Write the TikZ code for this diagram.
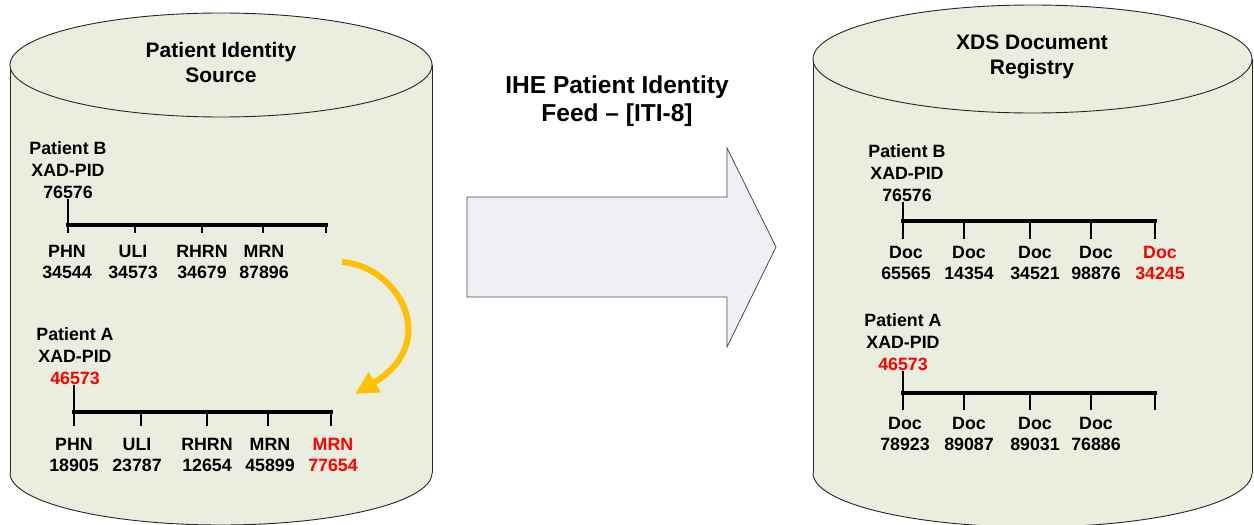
\documentclass[tikz,border=0pt]{standalone}
\usepackage{fontspec}
\setmainfont{Liberation Sans}
\usetikzlibrary{arrows.meta}
\definecolor{cylfill}{HTML}{EAEEDE}
\definecolor{arrowfill}{HTML}{EFEFF5}
\definecolor{feedorange}{HTML}{FFC000}
\definecolor{idred}{HTML}{FF0000}

\tikzset{
  cylbody/.style={fill=cylfill},
  cyledge/.style={draw=black!85, line width=0.9pt},
  heading/.style={font=\fontsize{21}{25}\selectfont\bfseries, align=center, inner sep=0pt},
  feedlabel/.style={font=\fontsize{24.5}{28}\selectfont\bfseries, align=center, inner sep=0pt},
  idtext/.style={font=\fontsize{17.8}{21.8}\selectfont\bfseries, align=center, inner sep=0pt},
  bar/.style={line width=3.5pt, line cap=rect},
  tickline/.style={line width=2.2pt},
  bigarrow/.style={fill=arrowfill, draw=black!70, line width=0.8pt, line join=miter},
  moveline/.style={draw=feedorange, line width=6pt,
    -{Triangle[length=23pt,width=22pt]}},
}

% a cylinder: #1 centre x, #2 half width, #3 top centre y, #4 bottom centre y, #5 y radius
\newcommand\drumshape[5]{%
  \fill[cylbody] (#1-#2,#3) rectangle (#1+#2,#4);
  \fill[cylbody] (#1,#4) ellipse[x radius=#2, y radius=#5];
  \draw[cyledge] (#1-#2,#3) -- (#1-#2,#4);
  \draw[cyledge] (#1+#2,#3) -- (#1+#2,#4);
  \begin{scope}
    \clip (#1-#2-5,#4) rectangle (#1+#2+5,#4+#5+5);
    \draw[cyledge] (#1,#4) ellipse[x radius=#2, y radius=#5];
  \end{scope}
  \draw[cyledge, fill=cylfill] (#1,#3) ellipse[x radius=#2, y radius=#5];
}

% a branch of identifiers: #1 name, #2 bar y, #3 tick end y, #4 list of x positions
\newcommand\idbranch[4]{%
  \foreach \x [count=\i] in {#4} {
    \coordinate (#1t\i) at (\x,#3);
    \coordinate (#1b\i) at (\x,#2);
  }
  \foreach \x [count=\i] in {#4} {
    \draw[tickline] (#1b\i) -- (#1t\i);
  }
  \draw[bar] (#1b1) -- (#1b5);
  \draw[tickline] (#1b1 |- #1.south) -- (#1t1);
}

\begin{document}
\begin{tikzpicture}[x=1pt, y=-1pt]
  \useasboundingbox (0,0) rectangle (1254,525);
  \fill[white] (0,0) rectangle (1254,525);

  % the two stores
  \drumshape{221}{211}{65}{473}{52}
  \drumshape{1032.5}{219.5}{59}{473}{54}

  \node[heading] (srcname) at (221,62) {Patient Identity\\Source};
  \node[heading] (regname) at (1032,57) {XDS Document\\Registry};

  % transaction arrow
  \node[feedlabel] (feed) at (617,101) {IHE Patient Identity\\Feed -- [ITI-8]};
  \draw[bigarrow] (467,197) -- (727,197) -- (727,148) -- (776,247)
    -- (727,347) -- (727,297) -- (467,297) -- cycle;

  % ---- source: patient B
  \node[idtext] (lpb) at (68,170) {Patient B\\XAD-PID\\76576};
  \idbranch{lpb}{225}{233}{68,135,202,263,326}
  \node[idtext] (lpbv1) at (67,262) {PHN\\34544};
  \node[idtext] (lpbv2) at (133,262) {ULI\\34573};
  \node[idtext] (lpbv3) at (202,262) {RHRN\\34679};
  \node[idtext] (lpbv4) at (264,262) {MRN\\87896};

  % ---- source: patient A
  \node[idtext] (lpa) at (75,356) {Patient A\\XAD-PID\\\textcolor{idred}{46573}};
  \idbranch{lpa}{412}{426}{74,141,207,268,331}
  \node[idtext] (lpav1) at (74,455) {PHN\\18905};
  \node[idtext] (lpav2) at (137,455) {ULI\\23787};
  \node[idtext] (lpav3) at (207,455) {RHRN\\12654};
  \node[idtext] (lpav4) at (270,455) {MRN\\45899};
  \node[idtext, text=idred] (lpav5) at (333,455) {MRN\\77654};

  % identifier moved from B to A
  \coordinate (mvfrom) at (342,262);
  \coordinate (mvto) at (355,394);
  \draw[moveline] (mvfrom) .. controls (398,266) and (442,342) .. (mvto);

  % ---- registry: patient B
  \node[idtext] (rpb) at (907,173) {Patient B\\XAD-PID\\76576};
  \idbranch{rpb}{221}{239}{903,964,1030,1091,1155}
  \node[idtext] (rpbv1) at (906,263) {Doc\\65565};
  \node[idtext] (rpbv2) at (969,263) {Doc\\14354};
  \node[idtext] (rpbv3) at (1035,263) {Doc\\34521};
  \node[idtext] (rpbv4) at (1096,263) {Doc\\98876};
  \node[idtext, text=idred] (rpbv5) at (1160,263) {Doc\\34245};

  % ---- registry: patient A
  \node[idtext] (rpa) at (903,342) {Patient A\\XAD-PID\\\textcolor{idred}{46573}};
  \idbranch{rpa}{393}{410}{903,964,1030,1091,1155}
  \node[idtext] (rpav1) at (905,434) {Doc\\78923};
  \node[idtext] (rpav2) at (969,434) {Doc\\89087};
  \node[idtext] (rpav3) at (1035,434) {Doc\\89031};
  \node[idtext] (rpav4) at (1096,434) {Doc\\76886};
\end{tikzpicture}
\end{document}
